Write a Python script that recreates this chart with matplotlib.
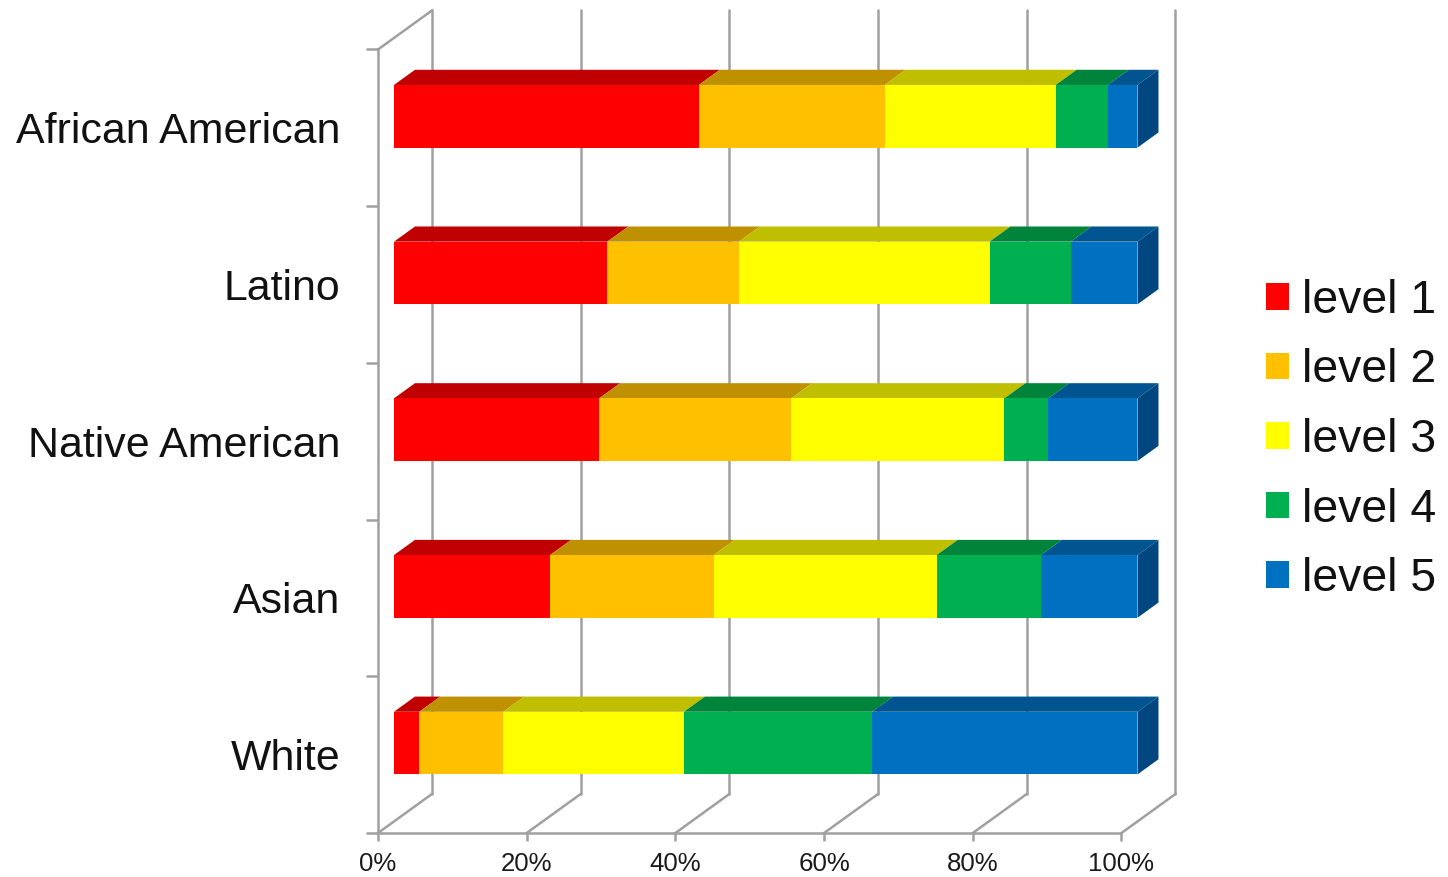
# plot.py
# 100% stacked bars, drawn in the old spreadsheet "3D" look.
import numpy as np
import matplotlib
matplotlib.use("Agg")
import matplotlib.pyplot as plt
from matplotlib.patches import Polygon, Patch

plt.rcParams["font.family"] = ["Liberation Sans", "DejaVu Sans"]

# ---- data ----
categories = ["African American", "Latino", "Native American", "Asian", "White"]
levels = ["level 1", "level 2", "level 3", "level 4", "level 5"]
level1 = [41.0, 28.7, 27.6, 21.0, 3.4]
level2 = [25.0, 17.7, 25.8, 22.0, 11.3]
level3 = [23.0, 33.7, 28.7, 30.0, 24.3]
level4 = [7.0, 10.9, 5.9, 14.0, 25.3]
level5 = [4.0, 9.0, 12.0, 13.0, 35.7]
x_ticks = [0, 20, 40, 60, 80, 100]
x_tick_labels = ["0%", "20%", "40%", "60%", "80%", "100%"]

# ---- style ----
FRONT = ["#FF0000", "#FFC000", "#FFFF00", "#00B050", "#0070C0"]
TOP = ["#C00000", "#BF9000", "#BFBF00", "#00843C", "#005490"]
SIDE = "#00477F"
GRID = "#A0A0A0"
LW_GRID = 1.8
DEPTH_X = 7.26    # full chart depth, in x data units
DEPTH_Y = 0.249   # full chart depth, in y data units
BAR_D0, BAR_D1 = 0.296, 0.685  # where the bars sit inside that depth
BAR_H = 0.40

W, H = 1448, 877


def proj(x, y, d):
    """Shift a data point d (0..1) back into the chart depth."""
    return (x + d * DEPTH_X, y + d * DEPTH_Y)


fig = plt.figure(figsize=(W / 100, H / 100), dpi=100)
ax = fig.add_axes([378 / W, (H - 833) / H, 743.5 / W, 783.5 / H])
ax.set_xlim(0, 100)
ax.set_ylim(0, 5)
ax.patch.set_visible(False)

# ---- walls and floor ----
for xt in x_ticks:
    bx, by = proj(xt, 0, 1)
    tx, ty = proj(xt, 5, 1)
    ax.plot([bx, tx], [by, ty], color=GRID, lw=LW_GRID, clip_on=False, zorder=1,
            solid_capstyle="round")
    ax.plot([xt, bx], [0, by], color=GRID, lw=LW_GRID, clip_on=False, zorder=1)
tx, ty = proj(0, 5, 1)
ax.plot([0, tx], [5, ty], color=GRID, lw=LW_GRID, clip_on=False, zorder=1)

# ---- bars ----
rows = np.array([level1, level2, level3, level4, level5])
for i, cat in enumerate(categories):
    yc = len(categories) - i - 0.5
    y0, y1 = yc - BAR_H / 2, yc + BAR_H / 2
    left = 0.0
    for k in range(len(levels)):
        right = left + rows[k, i]
        ax.add_patch(Polygon([proj(left, y1, BAR_D0), proj(right, y1, BAR_D0),
                              proj(right, y1, BAR_D1), proj(left, y1, BAR_D1)],
                             closed=True, fc=TOP[k], ec="none", clip_on=False, zorder=3))
        ax.add_patch(Polygon([proj(left, y0, BAR_D0), proj(right, y0, BAR_D0),
                              proj(right, y1, BAR_D0), proj(left, y1, BAR_D0)],
                             closed=True, fc=FRONT[k], ec="none", clip_on=False, zorder=4))
        left = right
    ax.add_patch(Polygon([proj(left, y0, BAR_D0), proj(left, y0, BAR_D1),
                          proj(left, y1, BAR_D1), proj(left, y1, BAR_D0)],
                         closed=True, fc=SIDE, ec="none", clip_on=False, zorder=3))

# ---- axes ----
for sp in ["top", "right"]:
    ax.spines[sp].set_visible(False)
for sp in ["left", "bottom"]:
    ax.spines[sp].set_color(GRID)
    ax.spines[sp].set_linewidth(LW_GRID)

ax.set_xticks(x_ticks)
ax.set_xticklabels(x_tick_labels, fontsize=18.6, color="#1A1A1A")
ax.tick_params(axis="x", length=6, width=LW_GRID, color=GRID, pad=8)

ax.set_yticks(np.arange(0, 6))
ax.set_yticklabels([])
ax.tick_params(axis="y", which="major", length=9, width=LW_GRID, color=GRID)
ax.set_yticks(np.arange(len(categories)) + 0.5, minor=True)
ax.set_yticklabels(categories[::-1], minor=True, fontsize=30.9, color="#111111")
ax.tick_params(axis="y", which="minor", length=0, pad=27)

# ---- legend ----
handles = [Patch(fc=c, ec="none", label=l) for c, l in zip(FRONT, levels)]
fig.legend(handles=handles, loc="center left", bbox_to_anchor=(1266 / W, (H - 440) / H),
           frameon=False, fontsize=33.4, labelcolor="#111111", borderpad=0, borderaxespad=0,
           handlelength=0.5, handleheight=0.5, handletextpad=0.28, labelspacing=0.55)

fig.savefig("out.png", dpi=100)
